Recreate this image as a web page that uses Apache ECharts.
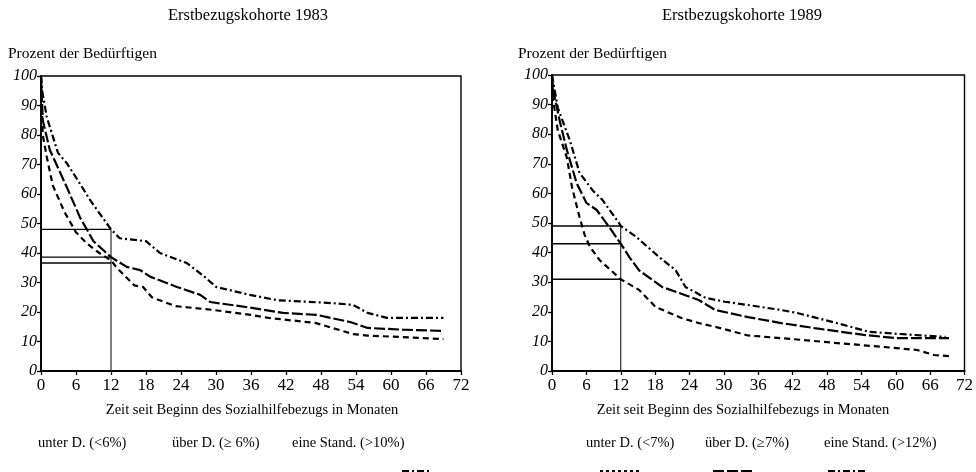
<!DOCTYPE html>
<html><head><meta charset="utf-8">
<script src="https://cdn.jsdelivr.net/npm/echarts@6/dist/echarts.min.js"></script>
<style>html,body{margin:0;padding:0;background:#fff}#c{width:976px;height:472px}</style>
</head><body><div id="c"></div>
<script>
// ---- Data ----
const xTicks = [0,6,12,18,24,30,36,42,48,54,60,66,72];
const yTicks = [0,10,20,30,40,50,60,70,80,90,100];

// Kohorte 1983
const m83_unter = [0,0.3,1,2,4,6,8,10,12,13,16,17.5,19,23,29.5,36,39,47,51,53.5,56,62,69];
const v83_unter = [100,80,72.5,63,54,47,43,40,37.5,35,29,28.5,25,22,20.7,19,18,16.3,14,12.5,12,11.5,10.8];
const m83_ueber = [0,0.3,1.5,4.4,6.7,9,12,14.7,17,18.7,23.3,27.3,29,35.8,41.5,47.3,53,56,62,69];
const v83_ueber = [100,85,75,62.4,52,44,38.6,35.3,34.2,32,28.5,25.8,23.4,21.5,19.7,19,16.6,14.6,14,13.6];
const m83_stand = [0,0.2,1,2.9,4.4,6.2,8.4,12,13.5,18,20.4,25,28,30,35.8,40.5,50,53.5,56,59.3,69];
const v83_stand = [100,95,86,74,70.5,65,58,48,45,44,40,36.6,32,28.5,25.8,24,23,22.4,19.7,18,18];
const ref83 = [48, 38.6, 36.6];

// Kohorte 1989
const m89_unter = [0,0.2,1,2.6,3.5,4.8,5.7,6.6,8.3,12,15.2,18.1,22.6,25.6,28.5,31.3,34.2,40,43.7,49.4,58,63.7,66.7,69.3];
const v89_unter = [100,91.5,81.4,72,62,52,46,42,37.5,31,27.4,21.6,17.9,16.2,14.9,13.5,12,11.1,10.5,9.5,8.1,7.1,5.4,5];
const m89_ueber = [0,0.2,1.4,2.6,4.3,6,7.8,10,12,13.5,15.2,19.2,22.1,25.6,28.5,34.2,40,45.8,54.4,60.1,69.3];
const v89_ueber = [100,95,84,74.6,63.5,56.8,54.4,48.6,43,38.5,34,28.4,26.4,24,20.6,18.2,16.2,14.5,12.2,11.1,11.1];
const m89_stand = [0,1,3.1,4.8,7.1,8.8,11.7,12,14.7,18.7,21.6,23.3,26.8,30.2,34.2,40,42.8,49.7,55.4,63,68.7];
const v89_stand = [100,89,78,67,61,57.8,50,49,45.3,38.5,34,28.4,24.7,23.4,22.3,20.6,19.6,16.2,13.2,12.2,11.5];
const ref89 = [49, 43, 31];
const refMonth = 12;

const titles = ['Erstbezugskohorte 1983','Erstbezugskohorte 1989'];
const yName = 'Prozent der Bedürftigen';
const xName = 'Zeit seit Beginn des Sozialhilfebezugs in Monaten';
const legend83 = ['unter D. (<6%)','über D. (\u2265 6%)','eine Stand. (>10%)'];
const legend89 = ['unter D. (<7%)','über D. (\u22657%)','eine Stand. (>12%)'];

// ---- Chart ----
const FONT = '"Liberation Serif", "DejaVu Serif", serif';
const zip = (a,b)=>a.map((x,i)=>[x,b[i]]);
const styles = [
  {type:[6,4], width:2.2},
  {type:[11,3], width:2.2},
  {type:[7,3,2,3], width:2.2}
];
function curve(idx, m, v, s){
  return {type:'line', xAxisIndex:idx, yAxisIndex:idx, data:zip(m,v), showSymbol:false,
    lineStyle:{color:'#000', width:s.width, type:s.type}, silent:true, z:3};
}
function refLines(idx, vals){
  const out = [];
  vals.forEach(v=>{
    out.push({type:'line', xAxisIndex:idx, yAxisIndex:idx, data:[[0,v],[refMonth,v]], showSymbol:false,
      lineStyle:{color:'#000', width:1.4}, silent:true, z:2});
  });
  out.push({type:'line', xAxisIndex:idx, yAxisIndex:idx, data:[[refMonth,0],[refMonth,Math.max(...vals)]], showSymbol:false,
    lineStyle:{color:'#000', width:1}, silent:true, z:2});
  return out;
}
function xAx(idx){
  return {type:'value', gridIndex:idx, min:0, max:72, interval:6,
    axisLine:{show:true, onZero:false, lineStyle:{color:'#000', width:1.8}},
    axisTick:{show:true, length:4, lineStyle:{color:'#000', width:1.3}},
    axisLabel:{color:'#000', fontFamily:FONT, fontSize:17, margin:6},
    splitLine:{show:false}};
}
function yAx(idx){
  return {type:'value', gridIndex:idx, min:0, max:100, interval:10,
    axisLine:{show:true, onZero:false, lineStyle:{color:'#000', width:1.8}},
    axisTick:{show:true, length:4, lineStyle:{color:'#000', width:1.3}},
    axisLabel:{color:'#000', fontFamily:FONT, fontSize:16, fontStyle:'italic', margin:4},
    splitLine:{show:false}};
}
function txt(x,y,t,size,align){
  return {type:'text', x:x, y:y, style:{text:t, fill:'#000', font:size+'px '+FONT, textAlign:align||'left', textVerticalAlign:'middle'}};
}
function seg(x1,x2,y,dash){
  return {type:'line', shape:{x1:x1,y1:y,x2:x2,y2:y}, style:{stroke:'#000', lineWidth:2, lineDash:dash}};
}

const chart = echarts.init(document.getElementById('c'), null, {renderer:'canvas'});
chart.setOption({
  animation:false,
  backgroundColor:'#fff',
  grid:[
    {left:41, top:76, width:420, height:295, show:true, borderColor:'#000', borderWidth:1.4, backgroundColor:'transparent'},
    {left:552, top:75, width:417, height:296, show:true, borderColor:'#000', borderWidth:1.4, backgroundColor:'transparent'}
  ],
  xAxis:[xAx(0), xAx(1)],
  yAxis:[yAx(0), yAx(1)],
  series:[
    curve(0,m83_unter,v83_unter,styles[0]),
    curve(0,m83_ueber,v83_ueber,styles[1]),
    curve(0,m83_stand,v83_stand,styles[2]),
    ...refLines(0, ref83),
    curve(1,m89_unter,v89_unter,styles[0]),
    curve(1,m89_ueber,v89_ueber,styles[1]),
    curve(1,m89_stand,v89_stand,styles[2]),
    ...refLines(1, ref89)
  ],
  graphic:[
    txt(248,16,titles[0],16.5,'center'),
    txt(742,16,titles[1],16.5,'center'),
    txt(8,54,yName,15.5),
    txt(518,54,yName,15.5),
    txt(252,410,xName,14.5,'center'),
    txt(743,410,xName,14.5,'center'),
    txt(38,443,legend83[0],14.5), txt(172,443,legend83[1],14.5), txt(292,443,legend83[2],14.5),
    txt(586,443,legend89[0],14.5), txt(705,443,legend89[1],14.5), txt(824,443,legend89[2],14.5),
    seg(402,432,471,[7,3,2,3]),
    seg(600,640,471,[3,3]), seg(713,755,471,[11,3]), seg(828,868,471,[7,3,2,3])
  ]
});
</script></body></html>
